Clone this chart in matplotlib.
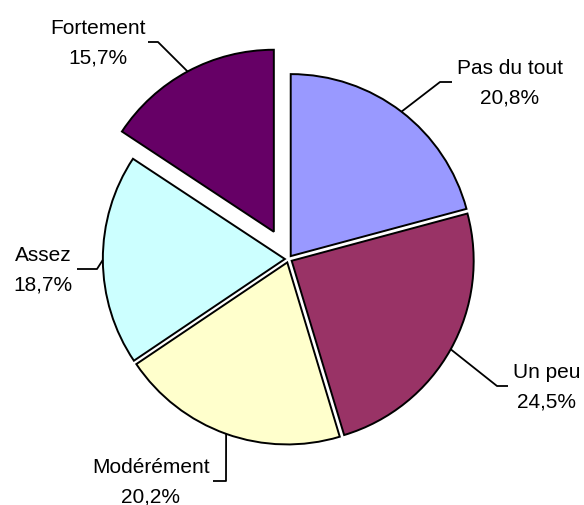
import matplotlib
matplotlib.use("Agg")
import matplotlib.pyplot as plt
import numpy as np

plt.rcParams['font.family'] = ['Liberation Sans', 'DejaVu Sans']

# data
labels = ['Pas du tout', 'Un peu', 'Modérément', 'Assez', 'Fortement']
values = [20.8, 24.5, 20.2, 18.7, 15.7]
colors = ['#9999FF', '#993366', '#FFFFCC', '#CCFFFF', '#660066']
explode = [0.02, 0.02, 0.02, 0.02, 0.17]

# label layout in pixels (text center x, leader elbow, leader end)
text_x = [510, 547, 151, 43, 98]
elbows = [(440, 83), (497, 387), (226, 482), (97, 270), (158, 43)]
ends = [(452, 83), (508, 387), (213, 482), (77, 270), (148, 43)]

W, H = 584, 506
R = 182.0           # pie radius in px
cx, cy = 288.5, 260  # pie centre in px (from top)


def px(x, y):
    return (x - cx) / R, (cy - y) / R


fig = plt.figure(figsize=(W / 100, H / 100), dpi=100)
ax = fig.add_axes([0, 0, 1, 1])

wedges, _ = ax.pie(values, startangle=90, counterclock=False, explode=explode,
                   colors=colors, radius=1,
                   wedgeprops=dict(edgecolor='black', linewidth=1.4))

ax.set_xlim(-cx / R, (W - cx) / R)
ax.set_ylim(-(H - cy) / R, cy / R)
ax.set_aspect('auto')
ax.axis('off')

for i, w in enumerate(wedges):
    mid = np.deg2rad((w.theta1 + w.theta2) / 2)
    r_out = 1 + explode[i]
    anchor = (r_out * np.cos(mid), r_out * np.sin(mid))
    ex, ey = px(*elbows[i])
    nx, ny = px(*ends[i])
    ax.plot([anchor[0], ex, nx], [anchor[1], ey, ny], color='black', lw=1.3,
            solid_capstyle='butt', zorder=3)

    ly = ends[i][1]
    tx, ty1 = px(text_x[i], ly - 9)
    _, ty2 = px(text_x[i], ly + 21)
    pct = f"{values[i]:.1f}".replace('.', ',') + '%'
    ax.text(tx, ty1, labels[i], ha='center', va='baseline', fontsize=15)
    ax.text(tx, ty2, pct, ha='center', va='baseline', fontsize=15)

fig.savefig('out.png', dpi=100)
